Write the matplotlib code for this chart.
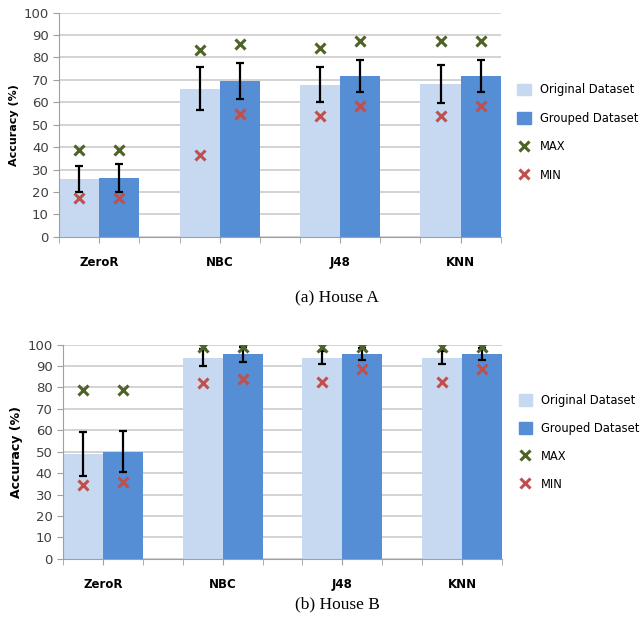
import numpy as np
import matplotlib
matplotlib.use('Agg')
import matplotlib.pyplot as plt
from matplotlib.patches import Patch
from matplotlib.lines import Line2D

classifiers = ['ZeroR', 'NBC', 'J48', 'KNN']

# House A
origA = [25.8, 66.0, 67.9, 68.3]
groupA = [26.2, 69.6, 71.7, 71.7]
origA_err = [5.9, 9.6, 7.7, 8.4]
groupA_err = [6.3, 8.0, 7.3, 7.3]
origA_max = [38.8, 83.5, 84.2, 87.2]
groupA_max = [38.8, 86.0, 87.2, 87.2]
origA_min = [17.5, 36.6, 53.7, 53.7]
groupA_min = [17.5, 54.6, 58.2, 58.2]

# House B
origB = [48.8, 93.9, 93.9, 93.9]
groupB = [50.0, 95.5, 95.5, 95.5]
origB_err = [10.3, 3.9, 3.1, 3.1]
groupB_err = [9.5, 3.4, 2.7, 2.7]
origB_max = [78.8, 98.8, 98.9, 98.9]
groupB_max = [78.8, 98.8, 98.9, 98.9]
origB_min = [34.4, 82.0, 82.7, 82.7]
groupB_min = [35.8, 83.8, 88.5, 88.5]

c_orig = '#c6d9f1'
c_group = '#558ed5'
c_max = '#4f6228'
c_min = '#c0504d'
grid_c = '#d0d0d0'
txt_c = '#404040'

bw = 1.0 / 3


def draw(ax, orig, group, oerr, gerr, omax, gmax, omin, gmin, leg_y, leg_sp, ylab_size):
    x = np.arange(len(classifiers))
    ax.bar(x - bw / 2, orig, bw, color=c_orig, zorder=2)
    ax.bar(x + bw / 2, group, bw, color=c_group, zorder=2)
    ax.errorbar(x - bw / 2, orig, yerr=oerr, fmt='none', ecolor='black',
                elinewidth=1.6, capsize=3, capthick=1.6, zorder=3)
    ax.errorbar(x + bw / 2, group, yerr=gerr, fmt='none', ecolor='black',
                elinewidth=1.6, capsize=3, capthick=1.6, zorder=3)
    for xs, mx, mn in [(x - bw / 2, omax, omin), (x + bw / 2, gmax, gmin)]:
        ax.plot(xs, mx, 'x', color=c_max, ms=7.5, mew=2.2, zorder=4)
        ax.plot(xs, mn, 'x', color=c_min, ms=7.5, mew=2.2, zorder=4)
    ax.set_xlim(-bw, len(classifiers) - 1 + bw)
    ax.set_ylim(0, 100)
    ax.set_yticks(range(0, 101, 10))
    ax.yaxis.grid(True, color=grid_c, lw=1.3, zorder=0)
    ax.set_axisbelow(True)
    for s in ['top', 'right']:
        ax.spines[s].set_visible(False)
    ax.spines['left'].set_color('#a0a0a0')
    ax.spines['bottom'].set_color('#a0a0a0')
    # category labels on major ticks, bar edges as minor ticks
    ax.set_xticks(x)
    ax.set_xticklabels(classifiers, fontsize=8.5, fontweight='bold')
    ax.set_xticks(np.concatenate([x - bw, x + bw]), minor=True)
    ax.tick_params(axis='x', which='both', length=4, color='#a0a0a0', pad=10)
    ax.tick_params(axis='y', length=4, color='#a0a0a0', labelsize=9.5,
                   labelcolor=txt_c)
    ax.set_ylabel('Accuracy (%)', fontsize=ylab_size, fontweight='bold', labelpad=3)

    handles = [Patch(color=c_orig), Patch(color=c_group),
               Line2D([], [], ls='none', marker='x', color=c_max, ms=7.5, mew=2.2),
               Line2D([], [], ls='none', marker='x', color=c_min, ms=7.5, mew=2.2)]
    ax.legend(handles, ['Original Dataset', 'Grouped Dataset', 'MAX', 'MIN'],
              loc='upper left', bbox_to_anchor=(1.027, leg_y), frameon=False,
              fontsize=8.3, handlelength=1.2, handleheight=1.2,
              labelspacing=leg_sp, handletextpad=0.75, borderaxespad=0)


fig = plt.figure(figsize=(6.42, 6.30), dpi=100)
axA = fig.add_axes([0.092, 0.624, 0.688, 0.356])
axB = fig.add_axes([0.098, 0.113, 0.684, 0.340])

draw(axA, origA, groupA, origA_err, groupA_err, origA_max, groupA_max,
     origA_min, groupA_min, 0.705, 1.35, 8)
draw(axB, origB, groupB, origB_err, groupB_err, origB_max, groupB_max,
     origB_min, groupB_min, 0.79, 1.3, 9)

fig.text(0.525, 0.527, '(a) House A', ha='center', va='center',
         family='Liberation Serif', fontsize=12.5)
fig.text(0.525, 0.041, '(b) House B', ha='center', va='center',
         family='Liberation Serif', fontsize=12.5)

fig.savefig('out.png', dpi=100)
